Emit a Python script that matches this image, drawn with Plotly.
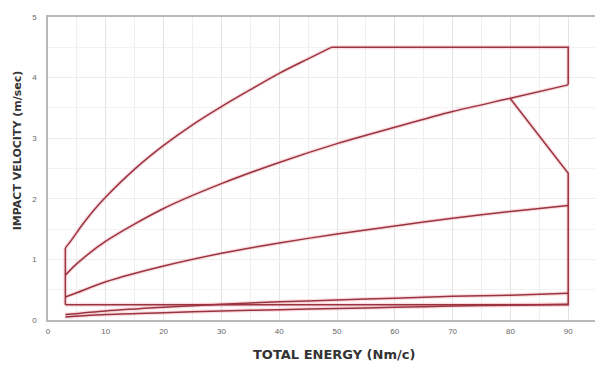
import plotly.graph_objects as go

# ---- data ----
x_ticks = [0, 10, 20, 30, 40, 50, 60, 70, 80, 90]
y_ticks = [0, 1, 2, 3, 4, 5]

# outer envelope: rising curve from the left edge up to the flat top
env_curve_e = [3, 4, 6, 8, 10, 15, 20, 25, 30, 35, 40, 45, 49]
env_curve_v = [1.19, 1.31, 1.58, 1.82, 2.03, 2.49, 2.88, 3.22, 3.52, 3.8, 4.07, 4.31, 4.5]

# straight parts of the envelope: left edge, flat top + right edge (upper)
env_left_e = [3, 3]
env_left_v = [0.25, 1.19]
env_top_e = [49, 90, 90]
env_top_v = [4.5, 4.5, 3.88]

# cut-off diagonal, right edge (lower part) and bottom edge
env_lower_e = [80, 90, 90, 3]
env_lower_v = [3.65, 2.42, 0.25, 0.25]

# inner curves
c2_e = [3, 5, 10, 20, 30, 40, 50, 60, 70, 80, 90]
c2_v = [0.74, 0.93, 1.3, 1.84, 2.25, 2.6, 2.91, 3.18, 3.44, 3.66, 3.88]

c3_e = [3, 5, 10, 20, 30, 40, 50, 60, 70, 80, 90]
c3_v = [0.38, 0.45, 0.63, 0.89, 1.1, 1.27, 1.42, 1.55, 1.68, 1.79, 1.89]

c4_e = [3, 10, 20, 30, 40, 50, 60, 70, 80, 90]
c4_v = [0.09, 0.15, 0.21, 0.26, 0.3, 0.33, 0.36, 0.39, 0.41, 0.44]

c5_e = [3, 10, 20, 30, 40, 50, 60, 70, 80, 90]
c5_v = [0.05, 0.09, 0.12, 0.15, 0.17, 0.19, 0.21, 0.23, 0.245, 0.26]

series = [
    (env_curve_e, env_curve_v, "spline"),
    (env_left_e, env_left_v, "linear"),
    (env_top_e, env_top_v, "linear"),
    (env_lower_e, env_lower_v, "linear"),
    (c2_e, c2_v, "spline"),
    (c3_e, c3_v, "spline"),
    (c4_e, c4_v, "spline"),
    (c5_e, c5_v, "spline"),
]

LINE = "#9c3340"
HALO = "rgba(235,140,150,0.28)"

fig = go.Figure()
for xs, ys, shape in series:
    fig.add_trace(go.Scatter(x=xs, y=ys, mode="lines",
                             line=dict(color=HALO, width=4, shape=shape, smoothing=0.8),
                             hoverinfo="skip", showlegend=False))
for xs, ys, shape in series:
    fig.add_trace(go.Scatter(x=xs, y=ys, mode="lines",
                             line=dict(color=LINE, width=1.5, shape=shape, smoothing=0.8),
                             showlegend=False))

tick_font = dict(family="Liberation Sans, Arial, sans-serif", size=8, color="#666")

# the page has an 8px body margin, so margins are offset accordingly
OFF = 8
L, R, T, B = 48 - OFF, 11, 13 - OFF, 57
W, H = 603, 369

fig.update_layout(
    width=W, height=H,
    margin=dict(l=L, r=R, t=T, b=B),
    paper_bgcolor="white", plot_bgcolor="white",
    xaxis=dict(range=[0, 95.5], tickvals=x_ticks, ticktext=[str(v) for v in x_ticks],
               showgrid=True, gridcolor="#e4e4e4", gridwidth=1,
               minor=dict(dtick=5, tick0=0, showgrid=True, gridcolor="#efefef"),
               showline=True, linecolor="#b8b8b8", linewidth=1.5, mirror=True,
               zeroline=False, ticks="", tickfont=tick_font, ticklabelstandoff=3),
    yaxis=dict(range=[0, 5], tickvals=y_ticks, ticktext=[str(v) for v in y_ticks],
               showgrid=True, gridcolor="#ececec", gridwidth=1,
               minor=dict(dtick=0.5, tick0=0, showgrid=True, gridcolor="#f2f2f2"),
               showline=True, linecolor="#b8b8b8", linewidth=1.5, mirror=True,
               zeroline=False, ticks="", tickfont=tick_font, ticklabelstandoff=8),
)

pw = W - L - R
ph = H - T - B


def to_paper(px, py):
    # px, py: screen pixels in the final page
    return (px - OFF - L) / pw, 1 - (py - OFF - T) / ph


ax_x, ax_y = to_paper(334, 355)
ay_x, ay_y = to_paper(17, 148)
fig.add_annotation(text="<b>TOTAL ENERGY (Nm/c)</b>", x=ax_x, y=ax_y, xref="paper", yref="paper",
                   xanchor="center", yanchor="middle", showarrow=False,
                   font=dict(family="DejaVu Sans, sans-serif", size=13, color="#333"))
fig.add_annotation(text="<b>IMPACT VELOCITY (m/sec)</b>", x=ay_x, y=ay_y, xref="paper", yref="paper",
                   xanchor="center", yanchor="middle", textangle=-90, showarrow=False,
                   font=dict(family="DejaVu Sans, sans-serif", size=11, color="#333"))

fig.write_html("out.html")
